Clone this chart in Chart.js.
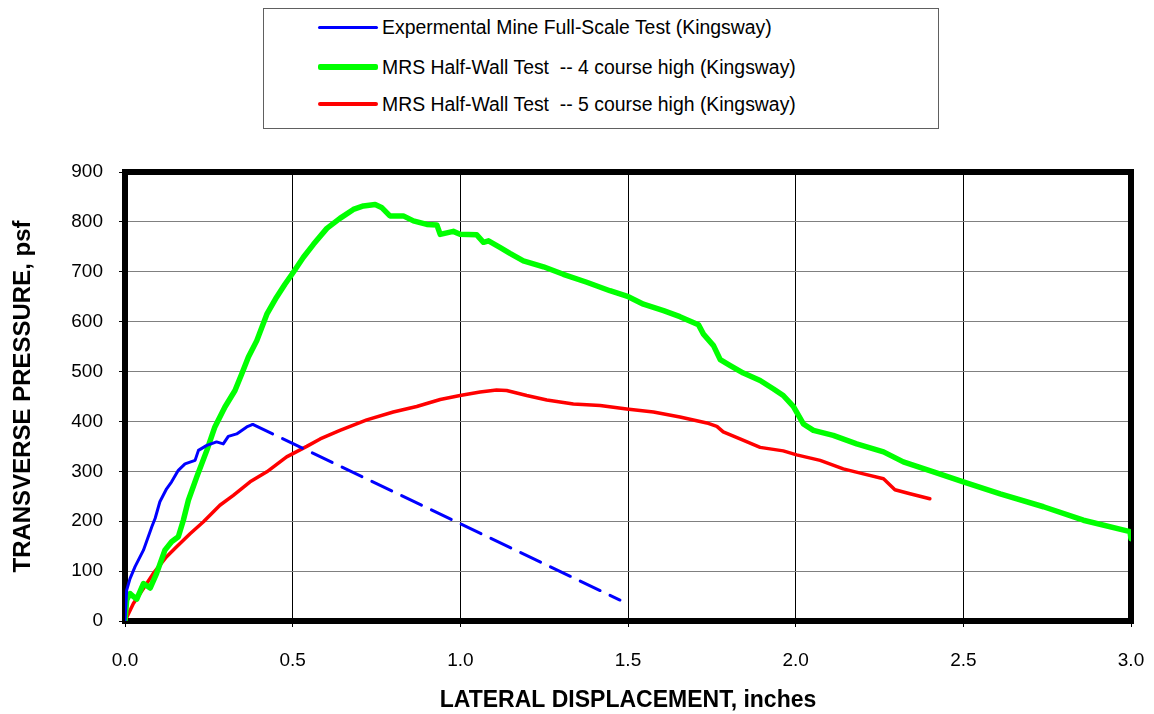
<!DOCTYPE html>
<html>
<head>
<meta charset="utf-8">
<script src="https://cdn.jsdelivr.net/npm/chart.js@4"></script>
<style>
    html, body { margin: 0; padding: 0; background: #fff; }
    #wrap { position: relative; width: 1154px; height: 714px; }
    #legendBox {
        position: absolute; left: 263px; top: 8px; width: 676px; height: 121px;
        border: 1px solid #606060; background: #fff; box-sizing: border-box;
        font-family: "Liberation Sans", Arial, sans-serif; font-size: 19.4px; color: #000;
    }
    .legend-row { position: absolute; left: 54px; height: 24px; display: flex; align-items: center; white-space: pre; }
    .legend-line { width: 60px; margin-right: 4px; border-radius: 2px; }
</style>
</head>
<body>
<div id="wrap">
    <canvas id="pressureChart" width="1154" height="714"></canvas>
    <div id="legendBox"></div>
</div>
<script>
(function() {
    'use strict';

    var seriesNames = [
        'Expermental Mine Full-Scale Test (Kingsway)',
        'MRS Half-Wall Test  -- 4 course high (Kingsway)',
        'MRS Half-Wall Test  -- 5 course high (Kingsway)'
    ];

    // experimental mine test: measured part, then dashed extrapolation
    var blueX = [0, 0.005, 0.015, 0.03, 0.055, 0.08, 0.09, 0.104, 0.124, 0.139, 0.159, 0.179, 0.209, 0.219, 0.244, 0.273, 0.293, 0.308, 0.333, 0.363, 0.381, 1.476];
    var blueY = [0, 62, 85, 109, 142, 189, 206, 239, 265, 279, 302, 315, 322, 342, 352, 359, 355, 370, 375, 389, 394, 42];
    var blueDashFrom = 20;

    var greenX = [0, 0.005, 0.015, 0.025, 0.035, 0.055, 0.075, 0.094, 0.119, 0.139, 0.159, 0.174, 0.189, 0.214, 0.244, 0.268, 0.298, 0.328, 0.348, 0.368, 0.393, 0.423, 0.452, 0.477, 0.502, 0.532, 0.562, 0.602, 0.641, 0.681, 0.711, 0.746, 0.765, 0.79, 0.83, 0.86, 0.9, 0.93, 0.94, 0.979, 0.999, 1.049, 1.069, 1.084, 1.118, 1.148, 1.188, 1.248, 1.307, 1.377, 1.446, 1.501, 1.546, 1.606, 1.655, 1.71, 1.725, 1.755, 1.775, 1.805, 1.844, 1.894, 1.934, 1.963, 1.993, 2.023, 2.053, 2.112, 2.182, 2.262, 2.321, 2.411, 2.5, 2.61, 2.739, 2.858, 2.997, 3.0];
    var greenY = [0, 42, 55, 49, 44, 75, 66, 95, 142, 159, 169, 202, 242, 289, 342, 389, 429, 462, 495, 529, 562, 615, 649, 675, 699, 729, 755, 787, 807, 825, 832, 835, 829, 812, 812, 802, 795, 794, 775, 781, 775, 774, 759, 762, 749, 737, 722, 710, 695, 679, 662, 650, 635, 622, 610, 594, 575, 552, 524, 512, 497, 482, 465, 452, 430, 395, 382, 372, 355, 339, 319, 299, 279, 255, 229, 202, 179, 165];

    var redX = [0, 0.025, 0.055, 0.084, 0.124, 0.154, 0.194, 0.234, 0.283, 0.323, 0.373, 0.423, 0.482, 0.542, 0.582, 0.641, 0.721, 0.8, 0.87, 0.94, 0.999, 1.059, 1.108, 1.138, 1.198, 1.258, 1.337, 1.417, 1.496, 1.576, 1.655, 1.735, 1.765, 1.784, 1.834, 1.894, 1.963, 2.003, 2.073, 2.142, 2.202, 2.262, 2.296, 2.341, 2.4];
    var redY = [0, 35, 65, 95, 129, 149, 175, 199, 232, 252, 279, 299, 329, 350, 365, 382, 403, 419, 430, 444, 452, 459, 463, 462, 452, 443, 435, 432, 425, 419, 409, 397, 390, 379, 365, 348, 341, 333, 322, 305, 295, 285, 263, 255, 245];

    var xTicks = [0, 0.5, 1.0, 1.5, 2.0, 2.5, 3.0];
    var yTicks = [0, 100, 200, 300, 400, 500, 600, 700, 800, 900];

    var colors = ['#0000ff', '#00ff00', '#ff0000'];
    var widths = [3, 5.5, 3.5];

    function toPoints(xs, ys) {
        return xs.map(function(x, i) { return { x: x, y: ys[i] }; });
    }

    var framePlugin = {
        id: 'plotFrame',
        beforeDatasetsDraw: function(chart) {
            var a = chart.chartArea;
            var ctx = chart.ctx;
            ctx.save();
            ctx.strokeStyle = '#000';
            ctx.lineWidth = 6;
            ctx.strokeRect(a.left, a.top, a.right - a.left, a.bottom - a.top);
            ctx.restore();
        }
    };

    function buildLegend() {
        var box = document.getElementById('legendBox');
        var tops = [6, 46, 83];
        seriesNames.forEach(function(name, i) {
            var row = document.createElement('div');
            row.className = 'legend-row';
            row.style.top = tops[i] + 'px';
            var line = document.createElement('span');
            line.className = 'legend-line';
            line.style.height = widths[i] + 'px';
            line.style.background = colors[i];
            var txt = document.createElement('span');
            txt.textContent = name;
            row.appendChild(line);
            row.appendChild(txt);
            box.appendChild(row);
        });
    }

    function renderChart() {
        var canvas = document.getElementById('pressureChart');
        var font = "'Liberation Sans', Arial, sans-serif";
        new Chart(canvas, {
            type: 'scatter',
            data: {
                datasets: [{
                    label: seriesNames[0],
                    data: toPoints(blueX, blueY),
                    borderColor: colors[0],
                    borderWidth: widths[0],
                    segment: {
                        borderDash: function(ctx) { return ctx.p0DataIndex >= blueDashFrom ? [22, 11] : undefined; }
                    }
                }, {
                    label: seriesNames[1],
                    data: toPoints(greenX, greenY),
                    borderColor: colors[1],
                    borderWidth: widths[1]
                }, {
                    label: seriesNames[2],
                    data: toPoints(redX, redY),
                    borderColor: colors[2],
                    borderWidth: widths[2]
                }].map(function(d) {
                    d.showLine = true;
                    d.pointRadius = 0;
                    d.tension = 0;
                    d.fill = false;
                    d.borderCapStyle = 'round';
                    d.borderJoinStyle = 'round';
                    return d;
                })
            },
            options: {
                responsive: false,
                animation: false,
                events: [],
                layout: { padding: { left: 0, top: 172, right: 23, bottom: 0 } },
                plugins: { legend: { display: false }, tooltip: { enabled: false } },
                scales: {
                    x: {
                        type: 'linear',
                        min: 0,
                        max: 3,
                        afterBuildTicks: function(scale) { scale.ticks = xTicks.map(function(v) { return { value: v }; }); },
                        afterFit: function(scale) {
                            scale.height = 93;
                            scale.paddingLeft = 0;
                            scale.paddingRight = 0;
                        },
                        border: { display: false },
                        grid: { color: '#000', lineWidth: 1, tickLength: 6, tickColor: '#000' },
                        ticks: {
                            color: '#000',
                            padding: 22,
                            maxRotation: 0,
                            font: { family: font, size: 19 },
                            callback: function(v) { return Number(v).toFixed(1); }
                        },
                        title: {
                            display: true,
                            text: 'LATERAL DISPLACEMENT, inches',
                            color: '#000',
                            padding: { top: -2, bottom: 0 },
                            font: { family: font, size: 23, weight: 'bold' }
                        }
                    },
                    y: {
                        min: 0,
                        max: 900,
                        afterBuildTicks: function(scale) { scale.ticks = yTicks.map(function(v) { return { value: v }; }); },
                        afterFit: function(scale) {
                            scale.width = 125;
                            scale.paddingTop = 0;
                            scale.paddingBottom = 0;
                        },
                        border: { display: false },
                        grid: { color: '#808080', lineWidth: 1, tickLength: 6, tickColor: '#000' },
                        ticks: {
                            color: '#000',
                            padding: 16,
                            font: { family: font, size: 19 }
                        },
                        title: {
                            display: true,
                            text: 'TRANSVERSE PRESSURE, psf',
                            color: '#000',
                            padding: { top: 9, bottom: 0 },
                            font: { family: font, size: 24, weight: 'bold' }
                        }
                    }
                }
            },
            plugins: [framePlugin]
        });
    }

    function init() {
        if (typeof Chart === 'undefined') return;
        buildLegend();
        renderChart();
    }

    if (document.readyState === 'loading') {
        document.addEventListener('DOMContentLoaded', init);
    } else {
        init();
    }
})();
</script>
</body>
</html>
